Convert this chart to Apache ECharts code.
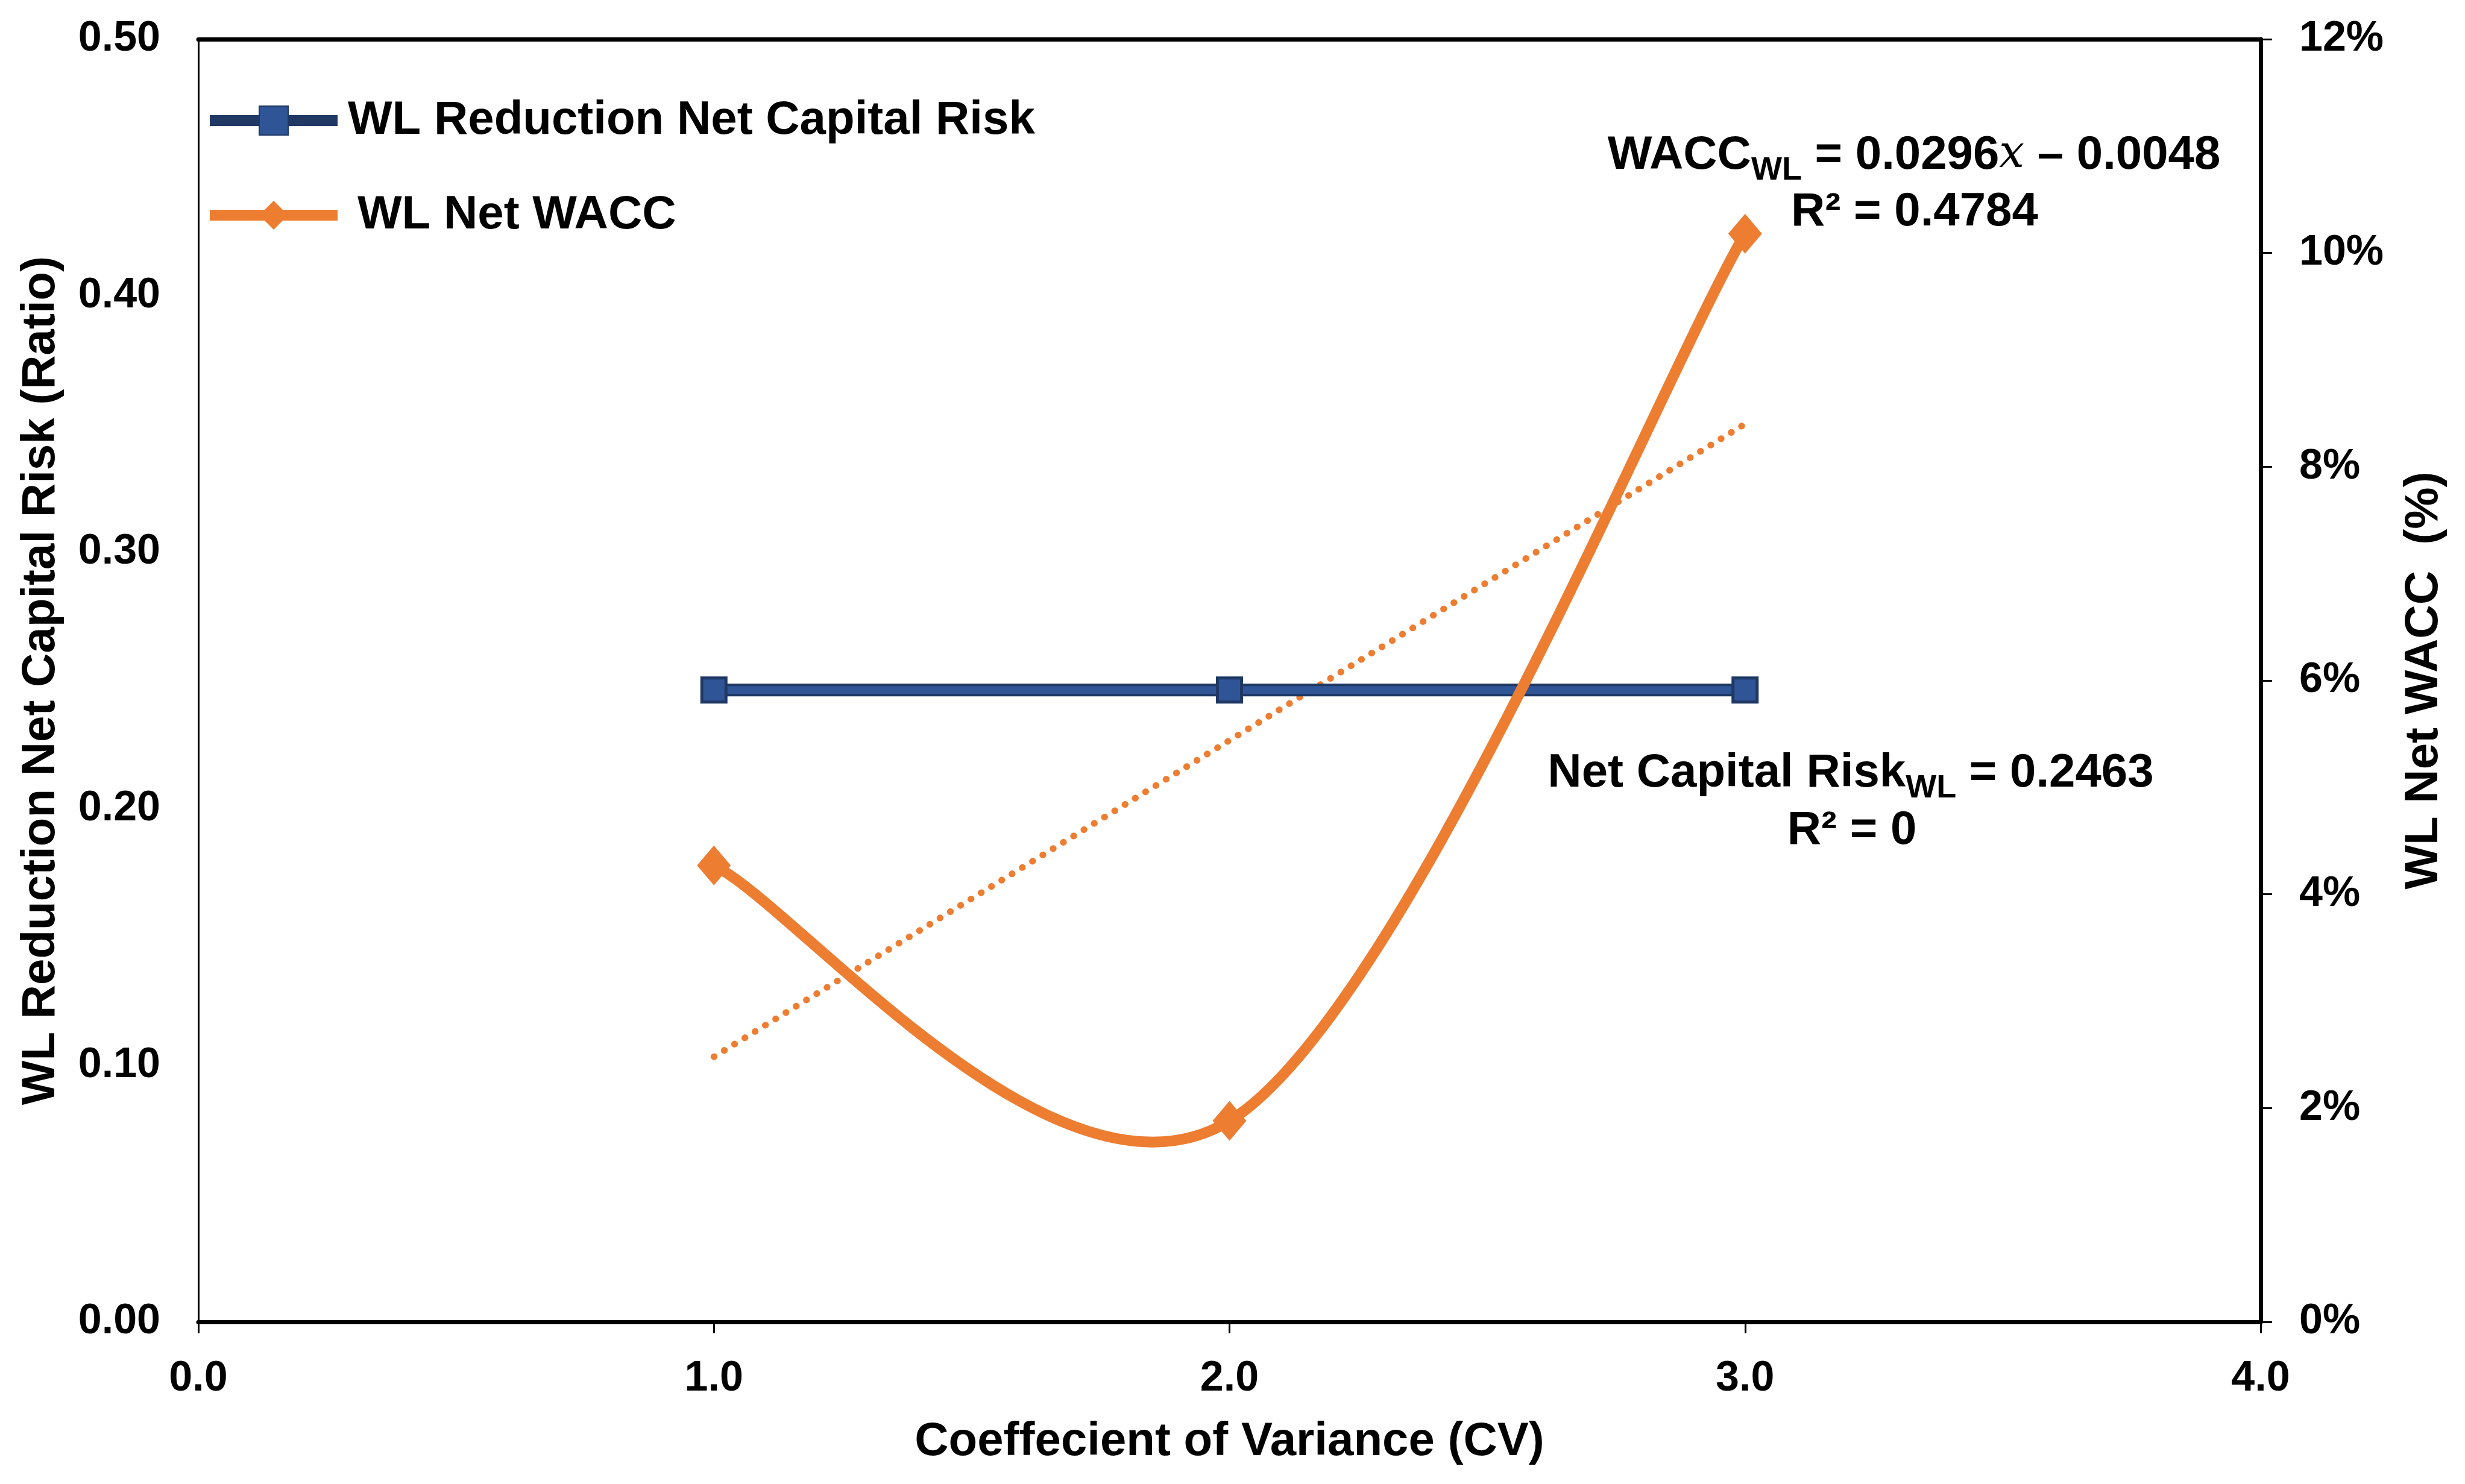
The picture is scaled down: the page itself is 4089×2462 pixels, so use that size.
<!DOCTYPE html>
<html>
<head>
<meta charset="utf-8">
<script src="https://cdn.jsdelivr.net/npm/echarts@6/dist/echarts.min.js"></script>
<style>
html,body{margin:0;padding:0;background:#fff;}
#c{width:4089px;height:2462px;}
</style>
</head>
<body>
<div id="c"></div>
<script>
// ---- data ----
const cvValues = [1, 2, 3];
const netCapitalRisk = [0.2463, 0.2463, 0.2463];
const netWACC = [0.0427, 0.0188, 0.1018];
const waccTrendX = [1, 3];
const waccTrendY = [0.0248, 0.0840];
const xTicks = [0, 1, 2, 3, 4];
const leftTicks = [0, 0.1, 0.2, 0.3, 0.4, 0.5];
const rightTicks = [0, 0.02, 0.04, 0.06, 0.08, 0.10, 0.12];
const seriesNames = ['WL Reduction Net Capital Risk', 'WL Net WACC'];

const FONT = '"Liberation Sans", Arial, sans-serif';
const chart = echarts.init(document.getElementById('c'), null, {renderer: 'canvas'});

const riskData = cvValues.map((x, i) => [x, netCapitalRisk[i]]);
const waccData = cvValues.map((x, i) => [x, netWACC[i]]);
const trendData = waccTrendX.map((x, i) => [x, waccTrendY[i]]);

const blue = '#2F5597', navy = '#1F3864', orange = '#ED7D31';

// Spreadsheet-style smoothed line (cubic Bezier through the points, control points at 1/6 of neighbour span)
function renderSmooth(params, api) {
  const i = params.dataIndex;
  const n = waccData.length;
  if (i >= n - 1) return null;
  const P = k => api.coord(waccData[Math.max(0, Math.min(n - 1, k))]);
  const p0 = P(i - 1), p1 = P(i), p2 = P(i + 1), p3 = P(i + 2);
  return {
    type: 'bezierCurve',
    shape: {
      x1: p1[0], y1: p1[1], x2: p2[0], y2: p2[1],
      cpx1: p1[0] + (p2[0] - p0[0]) / 6, cpy1: p1[1] + (p2[1] - p0[1]) / 6,
      cpx2: p2[0] - (p3[0] - p1[0]) / 6, cpy2: p2[1] - (p3[1] - p1[1]) / 6
    },
    style: {stroke: orange, lineWidth: 18, fill: 'none', lineCap: 'round'}
  };
}

function eqRich() {
  return {
    m: {fontFamily: FONT, fontWeight: 'bold', fontSize: 78, color: '#000'},
    s: {fontFamily: FONT, fontWeight: 'bold', fontSize: 54, color: '#000', padding: [50, 0, 0, 0]},
    i: {fontFamily: '"DejaVu Serif", serif', fontStyle: 'italic', fontWeight: 'normal', fontSize: 74, color: '#000'}
  };
}
function txt(x, y, text) {
  return {
    type: 'text', x: x, y: y, z: 100,
    style: {text: text, align: 'center', verticalAlign: 'middle', rich: eqRich(),
            font: 'bold 78px ' + FONT, fill: '#000'}
  };
}

const option = {
  backgroundColor: '#fff',
  animation: false,
  grid: {left: 329, right: 339, top: 65, bottom: 269, containLabel: false},
  legend: {
    data: [
      {name: seriesNames[0], lineStyle: {color: navy, width: 18, opacity: 1}},
      {name: seriesNames[1], lineStyle: {color: orange, width: 18, opacity: 1},
       textStyle: {padding: [0, 0, 0, 28]}}
    ],
    orient: 'vertical',
    left: 334, top: 150,
    itemWidth: 212, itemHeight: 60, itemGap: 67,
    textStyle: {fontFamily: FONT, fontWeight: 'bold', fontSize: 78, color: '#000', lineHeight: 90, padding: [0, 0, 0, 12]}
  },
  xAxis: [{
    type: 'value', min: 0, max: 4, interval: 1,
    name: 'Coeffecient of Variance (CV)', nameLocation: 'middle', nameGap: 160,
    nameTextStyle: {fontFamily: FONT, fontWeight: 'bold', fontSize: 78, color: '#000'},
    axisLine: {show: true, onZero: false, lineStyle: {color: '#000', width: 7}},
    axisTick: {show: true, inside: false, length: 19, lineStyle: {color: '#000', width: 3}},
    axisLabel: {margin: 60, fontFamily: FONT, fontWeight: 'bold', fontSize: 70, color: '#000',
                formatter: v => xTicks.indexOf(v) >= 0 ? v.toFixed(1) : ''},
    splitLine: {show: false}
  }, {
    type: 'value', min: 0, max: 4, interval: 1, position: 'top',
    axisLine: {show: true, onZero: false, lineStyle: {color: '#000', width: 7}},
    axisTick: {show: false}, axisLabel: {show: false}, splitLine: {show: false}
  }],
  yAxis: [{
    type: 'value', min: 0, max: 0.5, interval: 0.1, position: 'left',
    name: 'WL Reduction Net Capital Risk (Ratio)', nameLocation: 'middle', nameGap: 222, nameRotate: 90,
    nameTextStyle: {fontFamily: FONT, fontWeight: 'bold', fontSize: 78, color: '#000'},
    axisLine: {show: true, onZero: false, lineStyle: {color: '#000', width: 3}},
    axisTick: {show: false},
    axisLabel: {margin: 63, fontFamily: FONT, fontWeight: 'bold', fontSize: 70, color: '#000',
                formatter: v => v.toFixed(2)},
    splitLine: {show: false}
  }, {
    type: 'value', min: 0, max: 0.12, interval: 0.02, position: 'right',
    name: 'WL Net WACC  (%)', nameLocation: 'middle', nameGap: 232, nameRotate: 90,
    nameTextStyle: {fontFamily: FONT, fontWeight: 'bold', fontSize: 78, color: '#000'},
    axisLine: {show: true, onZero: false, lineStyle: {color: '#000', width: 7}},
    axisTick: {show: true, inside: false, length: 19, lineStyle: {color: '#000', width: 3}},
    axisLabel: {margin: 64, fontFamily: FONT, fontWeight: 'bold', fontSize: 70, color: '#000',
                formatter: v => Math.round(v * 100) + '%'},
    splitLine: {show: false}
  }],
  series: [
    {
      name: 'trend', type: 'line', xAxisIndex: 0, yAxisIndex: 1, data: trendData,
      symbol: 'none', silent: true, z: 1,
      lineStyle: {color: orange, width: 11, type: [0.5, 19.5], cap: 'round'}
    },
    {
      name: 'riskOutline', type: 'line', xAxisIndex: 0, yAxisIndex: 0, data: riskData,
      symbol: 'none', silent: true, z: 2,
      lineStyle: {color: navy, width: 21}
    },
    {
      name: seriesNames[0], type: 'line', xAxisIndex: 0, yAxisIndex: 0, data: riskData,
      symbol: 'rect', symbolSize: 40, z: 3,
      itemStyle: {color: blue, borderColor: navy, borderWidth: 5},
      lineStyle: {color: blue, width: 13}
    },
    {
      name: 'waccCurve', type: 'custom', xAxisIndex: 0, yAxisIndex: 1, data: waccData,
      encode: {x: 0, y: 1}, renderItem: renderSmooth, silent: true, z: 4
    },
    {
      name: seriesNames[1], type: 'line', xAxisIndex: 0, yAxisIndex: 1, data: waccData,
      symbol: 'diamond', symbolSize: [56, 66], z: 5,
      itemStyle: {color: orange},
      lineStyle: {color: orange, width: 18, opacity: 0}
    }
  ],
  graphic: [
    txt(3175, 258, '{m|WACC}{s|WL}{m| = 0.0296}{i|x}{m| \u2013 0.0048}'),
    txt(3176, 352, '{m|R\u00B2 = 0.4784}'),
    txt(3070, 1283, '{m|Net Capital Risk}{s|WL}{m| = 0.2463}'),
    txt(3072, 1378, '{m|R\u00B2 = 0}')
  ]
};
chart.setOption(option);
</script>
</body>
</html>
